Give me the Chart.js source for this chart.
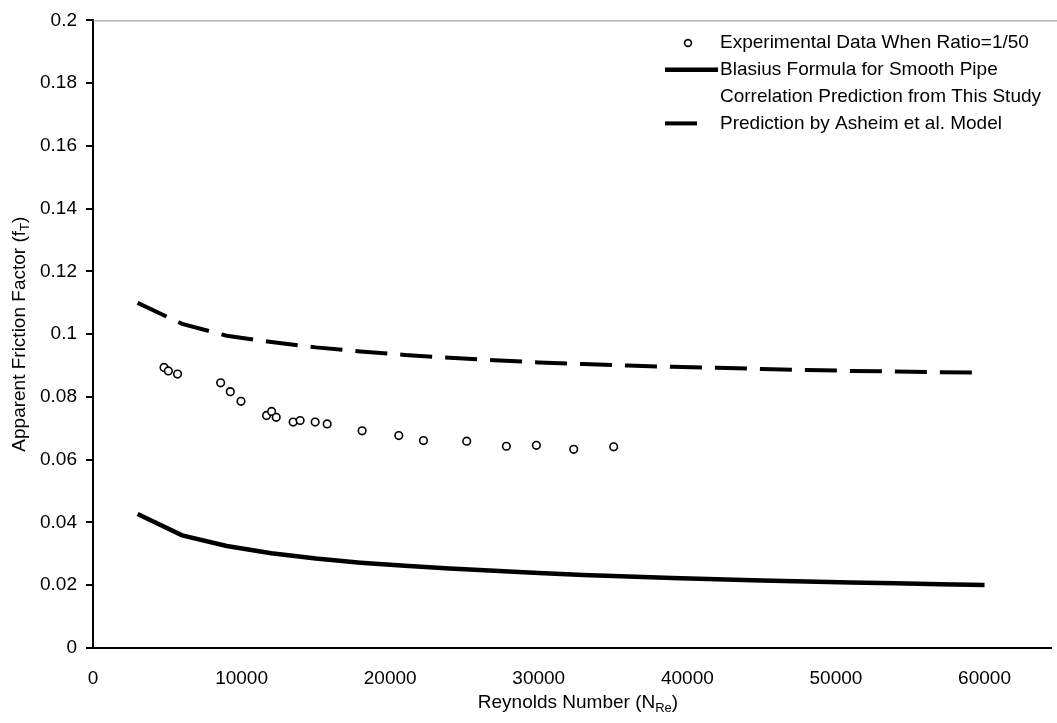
<!DOCTYPE html>
<html>
<head>
<meta charset="utf-8">
<title>Apparent friction factor vs Reynolds number</title>
<script src="https://cdn.jsdelivr.net/npm/chart.js@4.4.1/dist/chart.umd.min.js"></script>
<style>
  html, body { margin: 0; padding: 0; background: #fff; }
  #wrap { width: 1057px; height: 723px; }
</style>
</head>
<body>
<div id="wrap"><canvas id="frictionChart" width="1057" height="723"></canvas></div>
<script>
// Reynolds numbers and friction factors
const expRe = [4780, 5070, 5690, 8590, 9240, 9960, 11680, 12020, 12330, 13470, 13940,
               14950, 15760, 18110, 20580, 22240, 25150, 27820, 29840, 32350, 35040]
const expF = [0.0894, 0.0883, 0.0873, 0.0845, 0.0817, 0.0786, 0.0741, 0.0754, 0.0735, 0.0720, 0.0725,
              0.0720, 0.0714, 0.0692, 0.0677, 0.0661, 0.0659, 0.0643, 0.0646, 0.0633, 0.0641]

const curveRe = [3000, 6000, 9000, 12000, 15000, 18000, 21000, 24000, 27000, 30000,
                 33000, 36000, 39000, 42000, 45000, 48000, 51000, 54000, 57000, 60000]
const blasiusF = [0.0427, 0.0359, 0.0325, 0.0302, 0.0285, 0.0272, 0.0262, 0.0253, 0.0246, 0.0239,
                  0.0233, 0.0228, 0.0223, 0.0219, 0.0215, 0.0212, 0.0209, 0.0206, 0.0203, 0.0201]
const asheimF = [0.1100, 0.1033, 0.0995, 0.0975, 0.0958, 0.0945, 0.0934, 0.0925, 0.0917, 0.0910,
                 0.0905, 0.0900, 0.0896, 0.0893, 0.0889, 0.0886, 0.0883, 0.0881, 0.0879, 0.0877]

const seriesLabels = [
  "Experimental Data When Ratio=1/50",
  "Blasius Formula for Smooth Pipe",
  "Correlation Prediction from This Study",
  "Prediction by Asheim et al. Model"
]
const yTicks = [0, 0.02, 0.04, 0.06, 0.08, 0.1, 0.12, 0.14, 0.16, 0.18, 0.2]
const xTicks = [0, 10000, 20000, 30000, 40000, 50000, 60000]

const FONT = "'Liberation Sans', Arial, sans-serif"
const pts = (xs, ys) => xs.map((x, i) => ({ x: x, y: ys[i] }))

// axis titles with subscripts and the boxed-in legend
const decorations = {
  id: "decorations",
  afterDraw(chart) {
    const ctx = chart.ctx
    const area = chart.chartArea
    ctx.save()

    // thin frame line along the top
    ctx.strokeStyle = "#8a8a8a"
    ctx.lineWidth = 1
    ctx.beginPath()
    ctx.moveTo(area.left, area.top + 0.5)
    ctx.lineTo(chart.width, area.top + 0.5)
    ctx.stroke()

    ctx.fillStyle = "#000"
    ctx.textBaseline = "middle"
    const drawSub = (main, sub, tail, cx, cy) => {
      ctx.font = "19px " + FONT
      const w1 = ctx.measureText(main).width
      const w3 = ctx.measureText(tail).width
      ctx.font = "13px " + FONT
      const w2 = ctx.measureText(sub).width
      let x = cx - (w1 + w2 + w3) / 2
      ctx.textAlign = "left"
      ctx.font = "19px " + FONT
      ctx.fillText(main, x, cy)
      x += w1
      ctx.font = "13px " + FONT
      ctx.fillText(sub, x, cy + 5)
      x += w2
      ctx.font = "19px " + FONT
      ctx.fillText(tail, x, cy)
    }
    drawSub("Reynolds Number (N", "Re", ")", 578, 703)

    ctx.save()
    ctx.translate(20, (area.top + area.bottom) / 2)
    ctx.rotate(-Math.PI / 2)
    drawSub("Apparent Friction Factor (f", "T", ")", 0, 0)
    ctx.restore()

    // legend
    const symX = 665, textX = 720
    chart.data.datasets.forEach((ds, i) => {
      const y = 43 + i * 26.8
      ctx.strokeStyle = "#000"
      if (ds.legendKind === "marker") {
        ctx.lineWidth = 1.6
        ctx.beginPath()
        ctx.arc(688, y, 3.4, 0, Math.PI * 2)
        ctx.stroke()
      } else if (ds.legendKind === "solid") {
        ctx.lineWidth = ds.borderWidth
        ctx.beginPath()
        ctx.moveTo(symX, y)
        ctx.lineTo(718, y)
        ctx.stroke()
      } else if (ds.legendKind === "dashed") {
        ctx.lineWidth = ds.borderWidth
        ctx.beginPath()
        ctx.moveTo(symX, y)
        ctx.lineTo(697, y)
        ctx.stroke()
      }
      ctx.font = "19px " + FONT
      ctx.textAlign = "left"
      ctx.fillStyle = "#000"
      ctx.fillText(ds.label, textX, y)
    })
    ctx.restore()
  }
}

new Chart(document.getElementById("frictionChart"), {
  type: "scatter",
  data: {
    datasets: [
      {
        label: seriesLabels[0],
        legendKind: "marker",
        data: pts(expRe, expF),
        showLine: false,
        pointStyle: "circle",
        pointRadius: 3.8,
        pointBorderWidth: 1.6,
        pointBorderColor: "#000",
        pointBackgroundColor: "#fff"
      },
      {
        label: seriesLabels[1],
        legendKind: "solid",
        data: pts(curveRe, blasiusF),
        showLine: true,
        borderColor: "#000",
        borderWidth: 4.5,
        pointRadius: 0,
        tension: 0
      },
      {
        label: seriesLabels[2],
        legendKind: "none",
        data: [],
        showLine: true,
        borderColor: "#fff",
        pointRadius: 0
      },
      {
        label: seriesLabels[3],
        legendKind: "dashed",
        data: pts(curveRe, asheimF),
        showLine: true,
        borderColor: "#000",
        borderWidth: 4,
        borderDash: [32, 13],
        pointRadius: 0,
        tension: 0
      }
    ]
  },
  options: {
    responsive: false,
    animation: false,
    devicePixelRatio: 1,
    layout: { padding: { top: 16, right: 0, left: 0, bottom: 0 } },
    plugins: {
      legend: { display: false },
      tooltip: { enabled: false }
    },
    scales: {
      x: {
        type: "linear",
        min: 0,
        max: 64500,
        afterFit: (axis) => { axis.height = 75 },
        afterBuildTicks: (axis) => { axis.ticks = xTicks.map(v => ({ value: v })) },
        grid: { display: false, drawTicks: false },
        border: { display: true, color: "#000", width: 2 },
        ticks: {
          padding: 19,
          color: "#000",
          maxRotation: 0,
          font: { family: FONT, size: 19 },
          callback: (v) => String(v)
        }
      },
      y: {
        min: 0,
        max: 0.2,
        afterFit: (axis) => { axis.width = 93 },
        afterBuildTicks: (axis) => { axis.ticks = yTicks.map(v => ({ value: v })) },
        grid: { drawOnChartArea: false, drawTicks: true, tickLength: 7, color: "#000", lineWidth: 2 },
        border: { display: true, color: "#000", width: 2 },
        ticks: {
          padding: 9,
          color: "#000",
          font: { family: FONT, size: 19 },
          callback: (v) => String(Number(v.toFixed(2)))
        }
      }
    }
  },
  plugins: [decorations]
})
</script>
</body>
</html>
